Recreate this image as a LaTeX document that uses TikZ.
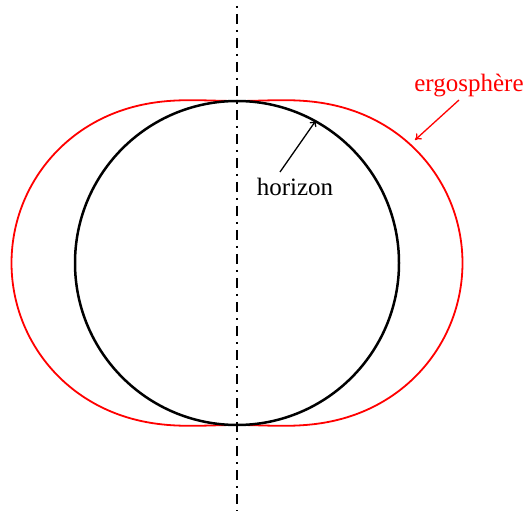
\documentclass[tikz,border=0pt]{standalone}
\usepackage{fontspec}
\setmainfont{Liberation Serif}
\usetikzlibrary{arrows.meta}
\begin{document}
\begin{tikzpicture}[x=1pt,y=1pt,
  lbl/.style={font=\fontsize{25}{30}\selectfont, inner sep=0pt, anchor=base},
  pointer/.style={-{To[length=6pt,width=8pt]}, line width=1.3pt},
  axisline/.style={line width=1.4pt, dash pattern=on 2pt off 6pt on 10pt off 6pt}]
\useasboundingbox (0,0) rectangle (525,-513);
\coordinate (c) at (237,-263);
\coordinate (top) at (237,-6);
\coordinate (bot) at (237,-511);
% ergosphere: r = M + sqrt(M^2 - a^2 cos^2 theta)
\draw[red, line width=1.8pt] plot[domain=0:360, samples=240, smooth]
  ({237 + (112.75+sqrt(12712.6-10287*cos(\x)*cos(\x)))*sin(\x)},
   {-263 + (112.75+sqrt(12712.6-10287*cos(\x)*cos(\x)))*cos(\x)}) -- cycle;
\node[circle, draw, line width=2.5pt, minimum size=324pt, inner sep=0pt] (hor) at (c) {};
\draw[axisline] (top) -- (bot);
\node[lbl] (hl) at (295,-196) {horizon};
\node[lbl, text=red] (el) at (469,-92) {ergosphère};
\coordinate (hs) at (280,-172);
\coordinate (es) at (459,-100);
\coordinate (ee) at (415,-140);
\draw[pointer] (hs) -- (hor.61);
\draw[pointer, red] (es) -- (ee);
\end{tikzpicture}
\end{document}
